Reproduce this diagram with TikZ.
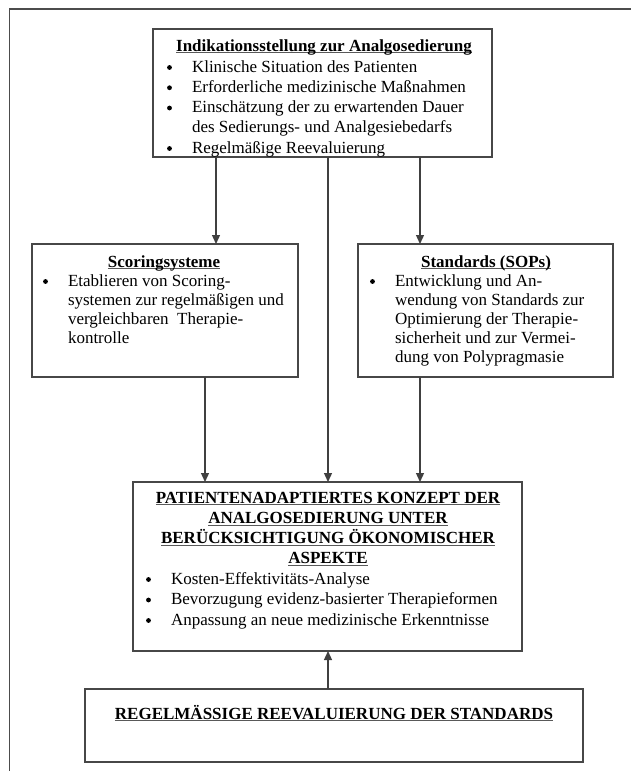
\documentclass[tikz,border=0pt]{standalone}
\usepackage{fontspec}
\setmainfont{Liberation Serif}
\usetikzlibrary{arrows.meta}
\newsavebox\ulbox
\newcommand{\myul}[1]{\sbox\ulbox{#1}\rlap{\color{black!65}\rule[-2.2pt]{\wd\ulbox}{0.9pt}}\usebox\ulbox}
\newcommand{\LinesL}[2][20.25pt]{\vtop{\baselineskip=#1\relax\lineskiplimit=-100pt\lineskip=0pt\halign{##\hfil\cr#2\crcr}}}
\newcommand{\LinesC}[2][20.25pt]{\vtop{\baselineskip=#1\relax\lineskiplimit=-100pt\lineskip=0pt\halign{\hfil##\hfil\cr#2\crcr}}}
\begin{document}
\begin{tikzpicture}[x=1pt,y=-1pt,
  every node/.style={inner sep=0pt, outer sep=0pt, font=\fontsize{17}{20.25}\selectfont, text=black},
  box/.style={draw=black!72, line width=1.5pt, rectangle},
  conn/.style={draw=black!75, line width=1.3pt, -{Triangle[length=9pt,width=8pt]}},
  frame/.style={draw=black!70, line width=1.6pt},
  dot/.style={fill=black}]
\useasboundingbox (0,0) rectangle (631,771);
\draw[frame] (631,9) -- (9.5,9) -- (9.5,771);

% boxes
\node[box, minimum width=339pt, minimum height=128pt] (top) at (322.5,93) {};
\node[box, minimum width=266pt, minimum height=133pt] (scor) at (165,310.5) {};
\node[box, minimum width=255pt, minimum height=133pt] (std) at (485.5,310.5) {};
\node[box, minimum width=389pt, minimum height=169pt] (main) at (327.5,566.5) {};
\node[box, minimum width=498pt, minimum height=73pt] (low) at (334,725.5) {};

% texts
\node[anchor=base] (toptitle) at (324,51) {\bfseries\myul{Indikationsstellung zur Analgosedierung}};
\node[anchor=base west] (toplist) at (192,72) {\LinesL{%
Klinische Situation des Patienten\cr
Erforderliche medizinische Maßnahmen\cr
Einschätzung der zu erwartenden Dauer\cr
des Sedierungs- und Analgesiebedarfs\cr
Regelmäßige Reevaluierung}};
\foreach \b in {72,92.25,112.5,153} \fill[dot] (169.5,\b-4.5) circle (2.4);

\node[anchor=base] (scortitle) at (164,267) {\bfseries\myul{Scoringsysteme}};
\node[anchor=base west] (scorlist) at (68,286) {\LinesL[19pt]{%
Etablieren von Scoring-\cr
systemen zur regelmäßigen und\cr
vergleichbaren\ \ Therapie-\cr
kontrolle}};
\fill[dot] (45.5,281.5) circle (2.4);

\node[anchor=base] (stdtitle) at (486,267) {\bfseries\myul{Standards (SOPs)}};
\node[anchor=base west] (stdlist) at (395,286) {\LinesL[19pt]{%
Entwicklung und An-\cr
wendung von Standards zur\cr
Optimierung der Therapie-\cr
sicherheit und zur Vermei-\cr
dung von Polypragmasie}};
\fill[dot] (372.5,281.5) circle (2.4);

\node[anchor=base] (maintitle) at (328,503) {\bfseries\LinesC[20.33pt]{%
\myul{PATIENTENADAPTIERTES KONZEPT DER}\cr
\myul{ANALGOSEDIERUNG UNTER}\cr
\myul{BERÜCKSICHTIGUNG ÖKONOMISCHER}\cr
\myul{ASPEKTE}}};
\node[anchor=base west] (mainlist) at (171,584) {\LinesL[20.5pt]{%
Kosten-Effektivitäts-Analyse\cr
Bevorzugung evidenz-basierter Therapieformen\cr
Anpassung an neue medizinische Erkenntnisse}};
\foreach \b in {584,604.5,625} \fill[dot] (148.5,\b-4.5) circle (2.4);

\node[anchor=base] (lowtitle) at (334,719) {\bfseries\myul{REGELMÄSSIGE REEVALUIERUNG DER STANDARDS}};

% connectors
\coordinate (cL) at (216,0);
\coordinate (cM) at (328,0);
\coordinate (cR) at (420,0);
\coordinate (cL2) at (205,0);
\draw[conn] (top.south -| cL) -- (scor.north -| cL);
\draw[conn] (top.south -| cR) -- (std.north -| cR);
\draw[conn] (top.south -| cM) -- (main.north -| cM);
\draw[conn] (scor.south -| cL2) -- (main.north -| cL2);
\draw[conn] (std.south -| cR) -- (main.north -| cR);
\draw[conn] (low.north -| cM) -- (main.south -| cM);
\end{tikzpicture}
\end{document}
